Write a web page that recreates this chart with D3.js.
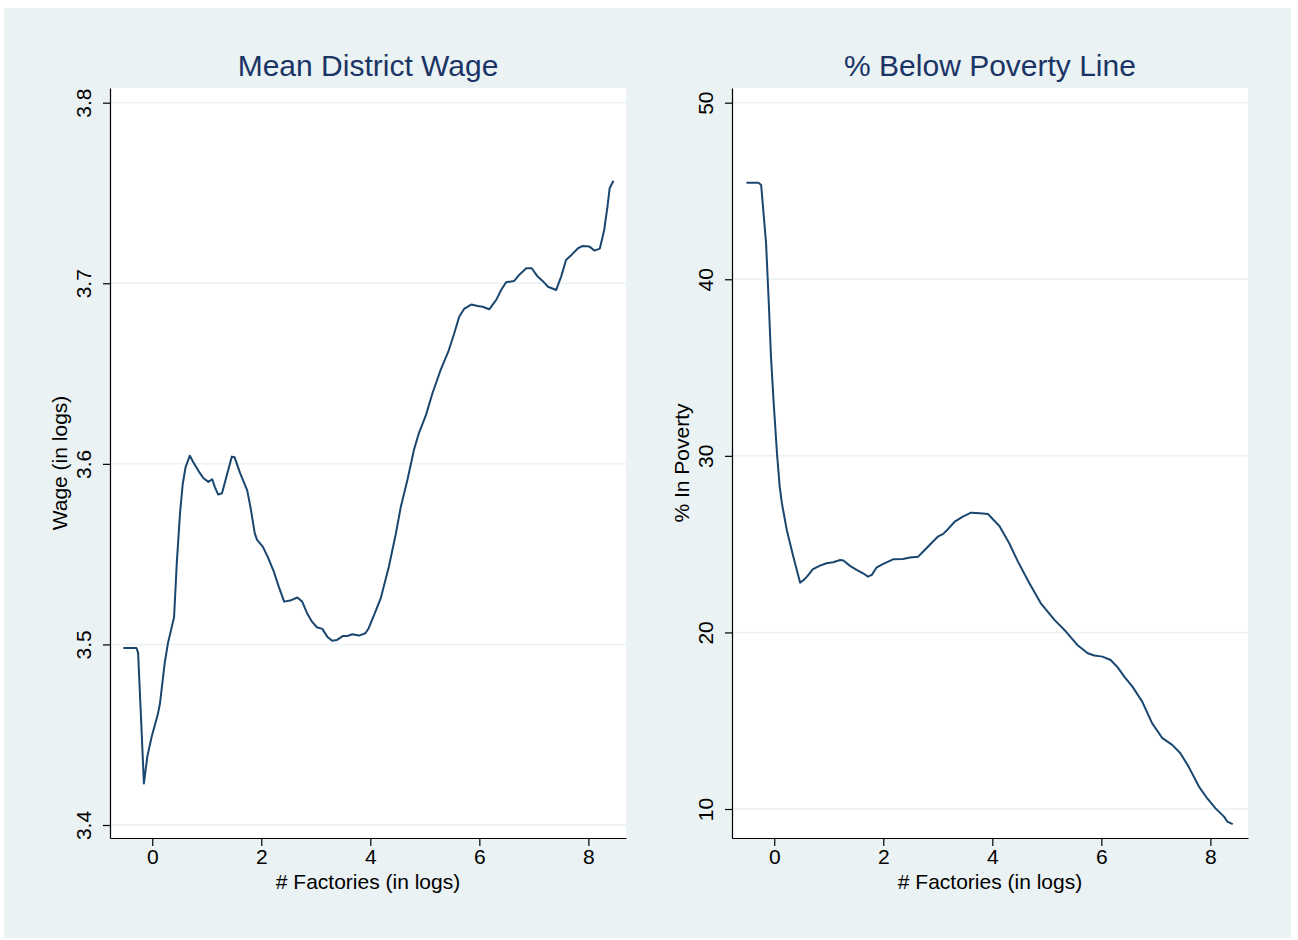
<!DOCTYPE html>
<html>
<head>
<meta charset="utf-8">
<script src="https://cdn.jsdelivr.net/npm/d3@7"></script>
<style>
  body { margin: 0; background: #fff; }
  text { font-family: "Liberation Sans", Arial, sans-serif; }
</style>
</head>
<body>
<div class="chart"></div>
<script>
// Two lowess panels: wage and poverty against # factories (logs)

// left panel: mean district wage
let wageX = [-0.53, -0.29, -0.26, -0.21, -0.153, -0.09, -0.01, 0.10, 0.14, 0.23, 0.29, 0.40, 0.45, 0.51, 0.56, 0.61,
  0.69, 0.75, 0.85, 0.94, 1.03, 1.10, 1.15, 1.21, 1.28, 1.37, 1.46, 1.51, 1.61, 1.74, 1.80, 1.88, 1.92, 2.03, 2.13,
  2.23, 2.32, 2.42, 2.53, 2.66, 2.75, 2.84, 2.93, 3.02, 3.12, 3.21, 3.30, 3.39, 3.50, 3.58, 3.67, 3.79, 3.91, 3.97,
  4.07, 4.19, 4.34, 4.47, 4.56, 4.68, 4.80, 4.89, 5.02, 5.14, 5.29, 5.43, 5.54, 5.63, 5.72, 5.85, 5.97, 6.06, 6.18,
  6.31, 6.40, 6.49, 6.64, 6.73, 6.86, 6.96, 7.07, 7.16, 7.26, 7.41, 7.50, 7.59, 7.69, 7.81, 7.90, 8.02, 8.11, 8.21,
  8.29, 8.35, 8.39, 8.46];
let wageY = [3.498, 3.498, 3.4955, 3.462, 3.423, 3.438, 3.449, 3.461, 3.467, 3.490, 3.501, 3.515, 3.545, 3.573, 3.589, 3.598,
  3.6045, 3.601, 3.596, 3.592, 3.590, 3.5915, 3.587, 3.583, 3.5837, 3.594, 3.604, 3.6037, 3.595, 3.5855, 3.5763, 3.5616, 3.558, 3.554, 3.5477,
  3.5403, 3.532, 3.5237, 3.5243, 3.526, 3.5237, 3.5173, 3.5126, 3.5095, 3.5086, 3.5043, 3.502, 3.5025, 3.5047, 3.5047, 3.5056, 3.5049, 3.5062, 3.509,
  3.5163, 3.5255, 3.543, 3.5616, 3.5763, 3.5911, 3.6077, 3.6169, 3.627, 3.6391, 3.652, 3.6621, 3.6723, 3.6815, 3.6858, 3.6882, 3.6874, 3.687, 3.6856,
  3.6908, 3.6963, 3.7006, 3.7013, 3.7046, 3.7083, 3.7083, 3.7037, 3.7013, 3.6981, 3.6963, 3.7037, 3.7129, 3.7157, 3.7194, 3.7207, 3.7203, 3.7181, 3.7192,
  3.7295, 3.7424, 3.7526, 3.7568];

// right panel: % below poverty line
let povX = [-0.51, -0.29, -0.24, -0.15, -0.10, -0.06, -0.01, 0.05, 0.10, 0.14, 0.23, 0.35, 0.475, 0.54, 0.60, 0.71, 0.84,
  0.96, 1.08, 1.21, 1.27, 1.39, 1.51, 1.63, 1.72, 1.79, 1.88, 2.00, 2.18, 2.36, 2.49, 2.64, 2.76, 2.88, 3.00, 3.10,
  3.19, 3.31, 3.46, 3.61, 3.77, 3.92, 4.01, 4.13, 4.31, 4.47, 4.68, 4.89, 5.14, 5.35, 5.56, 5.75, 5.87, 6.02, 6.17,
  6.29, 6.42, 6.57, 6.75, 6.93, 7.12, 7.30, 7.45, 7.60, 7.79, 7.94, 8.09, 8.25, 8.31, 8.41];
let povY = [45.47, 45.47, 45.34, 42.04, 38.64, 35.62, 32.98, 30.15, 28.26, 27.32, 25.80, 24.29, 22.82, 22.97, 23.16, 23.58, 23.78,
  23.92, 23.97, 24.10, 24.07, 23.77, 23.54, 23.35, 23.16, 23.26, 23.69, 23.88, 24.14, 24.16, 24.24, 24.29, 24.67, 25.05, 25.42, 25.58,
  25.86, 26.27, 26.56, 26.78, 26.75, 26.71, 26.41, 26.03, 25.05, 24.01, 22.79, 21.65, 20.71, 20.05, 19.29, 18.82, 18.69, 18.63, 18.44,
  18.06, 17.50, 16.93, 16.08, 14.86, 14.01, 13.63, 13.16, 12.40, 11.27, 10.61, 10.05, 9.57, 9.29, 9.14];

let xTicks = [0, 2, 4, 6, 8];
let wageTicks = [3.4, 3.5, 3.6, 3.7, 3.8];
let povTicks = [10, 20, 30, 40, 50];

let svgWidth = 1298;
let svgHeight = 940;
let plotW = 516;
let plotH = 750;
let bgColor = "#EAF2F3";
let lineColor = "#1A476F";

let svg = d3.select(".chart")
  .append("svg")
  .attr("width", svgWidth)
  .attr("height", svgHeight);

svg.append("rect")
  .attr("x", 4).attr("y", 8)
  .attr("width", 1287).attr("height", 930)
  .attr("fill", bgColor);

function drawPanel(left, xs, ys, yTicks, yDomain, title, yTitle) {
  let g = svg.append("g").attr("transform", `translate(${left}, 88)`);

  let xScale = d3.scaleLinear().domain([-0.775, 8.69]).range([0, plotW]);
  let yScale = d3.scaleLinear().domain(yDomain).range([plotH, 0]);

  g.append("rect").attr("width", plotW).attr("height", plotH).attr("fill", "#fff");

  // gridlines
  g.selectAll(".grid")
    .data(yTicks)
    .enter()
    .append("line")
    .attr("x1", 0).attr("x2", plotW)
    .attr("y1", d => yScale(d)).attr("y2", d => yScale(d))
    .attr("stroke", bgColor)
    .attr("stroke-width", 1.5);

  let pts = xs.map((x, i) => [x, ys[i]]);
  g.append("path")
    .datum(pts)
    .attr("fill", "none")
    .attr("stroke", lineColor)
    .attr("stroke-width", 2)
    .attr("stroke-linejoin", "round")
    .attr("d", d3.line().x(d => xScale(d[0])).y(d => yScale(d[1])));

  // axes
  let bottomAxis = d3.axisBottom(xScale).tickValues(xTicks).tickSize(8).tickSizeOuter(0).tickPadding(3);
  let xg = g.append("g").attr("transform", `translate(0, ${plotH})`).call(bottomAxis);
  xg.selectAll("text").attr("font-size", 21).attr("fill", "#000").attr("font-family", null);

  let leftAxis = d3.axisLeft(yScale).tickValues(yTicks).tickSize(7).tickSizeOuter(0).tickFormat(d3.format("~g"));
  let yg = g.append("g").call(leftAxis);
  yg.selectAll("text")
    .attr("transform", "rotate(-90)")
    .attr("x", 0).attr("y", -19).attr("dy", 0)
    .attr("text-anchor", "middle")
    .attr("font-size", 21).attr("fill", "#000").attr("font-family", null);

  [xg, yg].forEach(a => {
    a.select(".domain").attr("stroke", "#000").attr("stroke-width", 1.2);
    a.selectAll(".tick line").attr("stroke", "#000").attr("stroke-width", 1.2);
  });

  // titles
  g.append("text")
    .attr("x", plotW / 2).attr("y", -12)
    .attr("text-anchor", "middle")
    .attr("font-size", 30)
    .attr("fill", "#1a3466")
    .text(title);

  g.append("text")
    .attr("x", plotW / 2).attr("y", plotH + 51)
    .attr("text-anchor", "middle")
    .attr("font-size", 21)
    .text("# Factories (in logs)");

  g.append("text")
    .attr("transform", "rotate(-90)")
    .attr("x", -plotH / 2).attr("y", -43)
    .attr("text-anchor", "middle")
    .attr("font-size", 21)
    .text(yTitle);
}

drawPanel(110, wageX, wageY, wageTicks, [3.3928, 3.80814], "Mean District Wage", "Wage (in logs)");
drawPanel(732, povX, povY, povTicks, [8.358, 50.832], "% Below Poverty Line", "% In Poverty");
</script>
</body>
</html>
